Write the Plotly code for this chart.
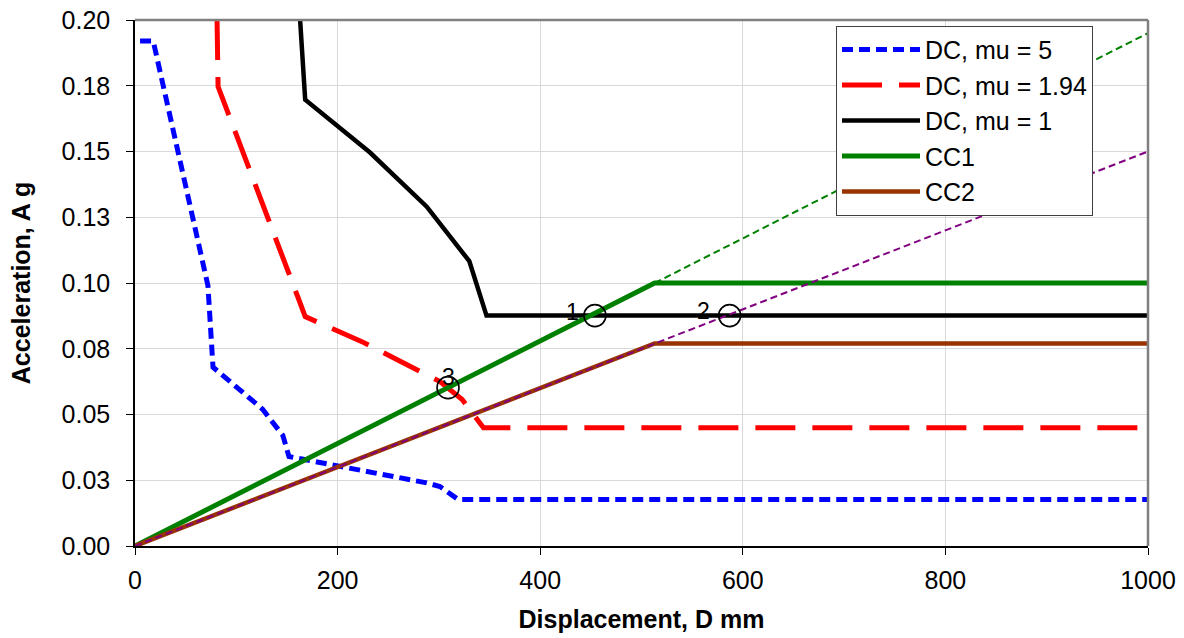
import plotly.graph_objects as go

# ---- data ----
disp_mu5 = [5, 18, 72, 77, 126, 146, 152, 209, 288, 301, 319, 1000]
acc_mu5 = [0.192, 0.192, 0.099, 0.068, 0.052, 0.042, 0.034, 0.030, 0.024, 0.0226, 0.0177, 0.0177]

disp_mu194 = [81, 82, 161, 168, 224, 301, 323, 344, 1000]
acc_mu194 = [0.200, 0.1747, 0.0944, 0.0872, 0.0777, 0.0625, 0.0557, 0.045, 0.045]

disp_mu1 = [163, 168, 232, 288, 330, 347, 1000]
acc_mu1 = [0.200, 0.1697, 0.1496, 0.129, 0.1083, 0.0876, 0.0876]

disp_cc1 = [0, 513, 1000]
acc_cc1 = [0, 0.100, 0.100]

disp_cc2 = [0, 513, 1000]
acc_cc2 = [0, 0.077, 0.077]

disp_cc1_ext = [513, 1000]
acc_cc1_ext = [0.100, 0.195]

disp_cc2_ext = [0, 1000]
acc_cc2_ext = [0, 0.150]

pt_disp = [454, 587, 309]
pt_acc = [0.0876, 0.0876, 0.0602]
pt_labels = ["1", "2", "3"]

x_ticks = [0, 200, 400, 600, 800, 1000]
x_ticklabels = ["0", "200", "400", "600", "800", "1000"]
y_ticks = [0, 0.025, 0.05, 0.075, 0.1, 0.125, 0.15, 0.175, 0.2]
y_ticklabels = ["0.00", "0.03", "0.05", "0.08", "0.10", "0.13", "0.15", "0.18", "0.20"]

FONT = "Liberation Sans, Arial, sans-serif"

fig = go.Figure()
fig.add_trace(go.Scatter(x=disp_mu5, y=acc_mu5, mode="lines", name="DC, mu = 5",
                         line=dict(color="#0000FF", width=5, dash="11px,6px")))
fig.add_trace(go.Scatter(x=disp_mu194, y=acc_mu194, mode="lines", name="DC, mu = 1.94",
                         line=dict(color="#FF0000", width=5, dash="40px,17px")))
fig.add_trace(go.Scatter(x=disp_mu1, y=acc_mu1, mode="lines", name="DC, mu = 1",
                         line=dict(color="#000000", width=4.5)))
fig.add_trace(go.Scatter(x=disp_cc1, y=acc_cc1, mode="lines", name="CC1",
                         line=dict(color="#008000", width=5)))
fig.add_trace(go.Scatter(x=disp_cc2, y=acc_cc2, mode="lines", name="CC2",
                         line=dict(color="#993300", width=4.5)))
fig.add_trace(go.Scatter(x=disp_cc1_ext, y=acc_cc1_ext, mode="lines", showlegend=False,
                         line=dict(color="#008000", width=2, dash="7px,4px")))
fig.add_trace(go.Scatter(x=disp_cc2_ext, y=acc_cc2_ext, mode="lines", showlegend=False,
                         line=dict(color="#800080", width=2, dash="7px,4px")))
fig.add_trace(go.Scatter(x=pt_disp, y=pt_acc, mode="markers", showlegend=False,
                         marker=dict(symbol="circle-open", size=22, color="black",
                                     line=dict(width=1.6, color="black"))))

# point labels
shifts = [(-22, 4), (-26, 5), (0, 11)]
for xv, yv, lab, (dx, dy) in zip(pt_disp, pt_acc, pt_labels, shifts):
    fig.add_annotation(x=xv, y=yv, text=lab, showarrow=False, xshift=dx, yshift=dy,
                       font=dict(family=FONT, size=23, color="black"))

fig.update_layout(
    width=1184, height=638,
    margin=dict(l=135, r=36, t=20, b=92, autoexpand=False),
    paper_bgcolor="white", plot_bgcolor="white",
    font=dict(family=FONT, size=25, color="black"),
    legend=dict(x=0.692, y=0.989, xanchor="left", yanchor="top",
                bgcolor="white", bordercolor="#404040", borderwidth=1,
                font=dict(family=FONT, size=25, color="black"),
                itemwidth=78, tracegroupgap=0),
    shapes=[
        dict(type="line", xref="paper", yref="paper", x0=0, x1=1, y0=1, y1=1,
             line=dict(color="#808080", width=2.5)),
        dict(type="line", xref="paper", yref="paper", x0=1, x1=1, y0=0, y1=1,
             line=dict(color="#808080", width=2.5)),
    ],
)

fig.update_xaxes(range=[0, 1000], tickvals=x_ticks, ticktext=x_ticklabels,
                 automargin=False,
                 showgrid=True, gridcolor="#d9d9d9", gridwidth=1,
                 showline=True, linecolor="black", linewidth=1.5,
                 ticks="outside", ticklen=7, tickcolor="black", zeroline=False,
                 tickfont=dict(family=FONT, size=25), ticklabelstandoff=4,
                 title=dict(text="Displacement, D mm", standoff=18,
                            font=dict(family=FONT, size=25, weight="bold")))
fig.update_yaxes(range=[0, 0.2], tickvals=y_ticks, ticktext=y_ticklabels,
                 automargin=False,
                 showgrid=True, gridcolor="#d9d9d9", gridwidth=1,
                 showline=True, linecolor="black", linewidth=1.5,
                 ticks="outside", ticklen=7, tickcolor="black", zeroline=False,
                 tickfont=dict(family=FONT, size=25), ticklabelstandoff=11,
                 title=dict(text="Acceleration, A g", standoff=24,
                            font=dict(family=FONT, size=25, weight="bold")))

# remove the default page margin so the figure sits at the window's top-left
fig.write_html("out.html", config={"displayModeBar": False},
               post_script="document.body.style.margin='0px';")
